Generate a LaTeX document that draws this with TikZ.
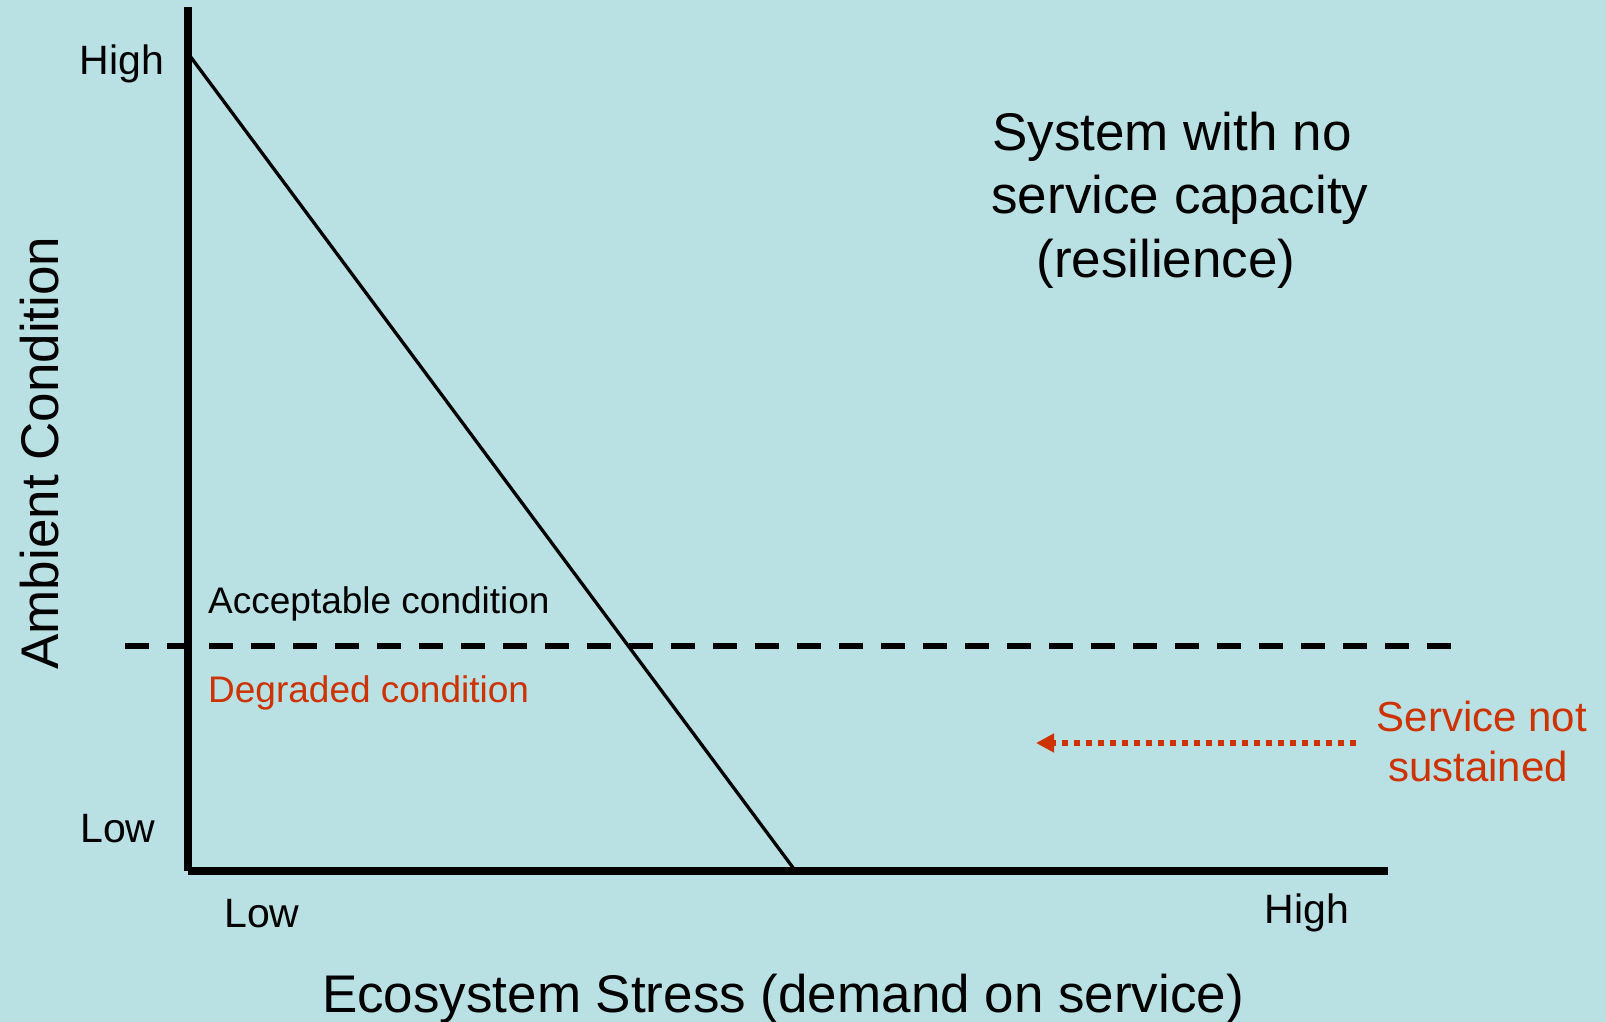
\documentclass[tikz,border=0pt]{standalone}
\usepackage{fontspec}
\setmainfont{Liberation Sans}
\usetikzlibrary{arrows.meta}
\definecolor{bgteal}{HTML}{B9E0E3}
\definecolor{warnred}{HTML}{CC3300}
\begin{document}
\begin{tikzpicture}[x=1pt,y=-1pt,
  lbl/.style={inner sep=0pt,anchor=base},
  axis/.style={line width=8pt},
  curve/.style={line width=3.3pt},
  threshold/.style={line width=6pt,dash pattern=on 24pt off 18pt},
  warnarrow/.style={warnred,line width=6pt,dash pattern=on 6pt off 6pt,-{Triangle[length=18pt,width=18pt]}}]
  % canvas
  \fill[bgteal] (0,0) rectangle (1606,1022);
  \useasboundingbox (0,0) rectangle (1606,1022);

  % axes
  \coordinate (ytop) at (188,7);
  \coordinate (origin) at (188,871);
  \coordinate (xend) at (1388,871);
  \draw[axis] (ytop) -- (origin);
  \draw[axis] (origin) -- (xend);

  % capacity line
  \coordinate (cstart) at (190,56);
  \coordinate (cend) at (794,869);
  \draw[curve] (cstart) -- (cend);

  % threshold between acceptable and degraded
  \coordinate (tl) at (125,646);
  \coordinate (tr) at (1452,646);
  \draw[threshold] (tl) -- (tr);

  % axis tick labels
  \node[lbl,font=\fontsize{41}{49}\selectfont] (yhigh) at (122,75) {High};
  \node[lbl,font=\fontsize{41}{49}\selectfont] (ylow) at (118,842) {Low};
  \node[lbl,font=\fontsize{41}{49}\selectfont] (xlow) at (262,927) {Low};
  \node[lbl,font=\fontsize{41}{49}\selectfont] (xhigh) at (1307,923) {High};

  % axis titles
  \node[lbl,font=\fontsize{53}{64}\selectfont] (xtitle) at (783,1012) {Ecosystem Stress (demand on service)};
  \node[lbl,rotate=90,font=\fontsize{53}{64}\selectfont] (ytitle) at (58,453) {Ambient Condition};

  % system description
  \node[lbl,font=\fontsize{53}{64}\selectfont] (sys1) at (1172,150) {System with no};
  \node[lbl,font=\fontsize{53}{64}\selectfont] (sys2) at (1180,213) {service capacity};
  \node[lbl,font=\fontsize{53}{64}\selectfont] (sys3) at (1166,277) {(resilience)};

  % region labels
  \node[lbl,anchor=base west,font=\fontsize{37}{44}\selectfont] (acc) at (208,613) {Acceptable condition};
  \node[lbl,anchor=base west,text=warnred,font=\fontsize{37}{44}\selectfont] (deg) at (208,702) {Degraded condition};

  % service not sustained
  \node[lbl,text=warnred,font=\fontsize{42}{50}\selectfont] (sns1) at (1482,731) {Service not};
  \node[lbl,text=warnred,font=\fontsize{42}{50}\selectfont] (sns2) at (1478,781) {sustained};
  \coordinate (arrfrom) at (1356,743);
  \coordinate (arrto) at (1036,743);
  \draw[warnarrow] (arrfrom) -- (arrto);
\end{tikzpicture}
\end{document}
